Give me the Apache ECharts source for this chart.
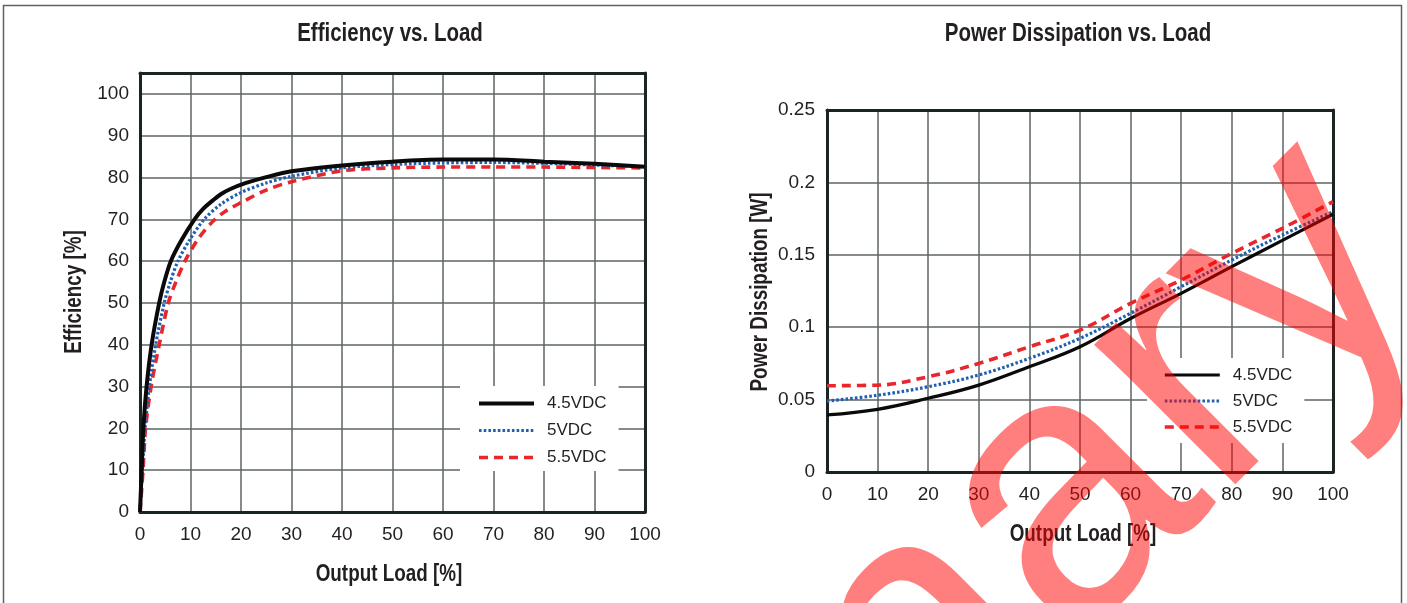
<!DOCTYPE html>
<html>
<head>
<meta charset="utf-8">
<script src="https://cdn.jsdelivr.net/npm/echarts@6/dist/echarts.min.js"></script>
<style>
html,body{margin:0;padding:0;background:#fff;}
#c{width:1407px;height:603px;}
</style>
</head>
<body>
<div id="c"></div>
<script>
// ---------- data ----------
const seriesNames = ['4.5VDC', '5VDC', '5.5VDC'];
const loadTicks = [0, 10, 20, 30, 40, 50, 60, 70, 80, 90, 100];

// Efficiency vs. Load  [load %, efficiency %]
const eff45 = [[0,0],[0.33,10],[0.66,20],[1.3,30],[2.3,40],[3.8,50],[4.8,55],[6.1,60],[8.2,65],[10.8,70],[12.5,72.5],[14.5,74.6],[16,76],[17.8,77.2],[21,78.7],[25,80.1],[30,81.5],[40,82.9],[50,83.8],[60,84.3],[70,84.3],[80,83.8],[90,83.3],[100,82.6]];
const eff50 = [[0,0],[0.46,10],[1.0,20],[1.85,30],[3.1,40],[4.8,50],[6,55],[7.5,60],[9.8,65],[12.7,70],[16,73.6],[20,76.4],[25,78.7],[30,80.3],[40,82.3],[50,83.1],[60,83.5],[70,83.6],[80,83.4],[90,83.0],[100,82.6]];
const eff55 = [[0,0],[0.6,10],[1.1,20],[2.2,30],[3.8,40],[5.6,50],[7.1,55],[8.9,60],[11.5,65.3],[14.5,69.6],[17,72],[20,74],[25,77],[30,79],[40,81.6],[50,82.3],[60,82.5],[70,82.5],[80,82.5],[90,82.4],[100,82.3]];

// Power Dissipation vs. Load  [load %, W]
const pd45 = [[0,0.0394],[10,0.0433],[20,0.0509],[30,0.060],[40,0.0727],[50,0.0865],[60,0.106],[70,0.1234],[80,0.1418],[90,0.160],[100,0.178]];
const pd50 = [[0,0.049],[10,0.053],[20,0.0589],[30,0.067],[40,0.0785],[50,0.0923],[60,0.1096],[70,0.128],[80,0.1464],[90,0.1637],[100,0.1798]];
const pd55 = [[0,0.0596],[10,0.060],[20,0.0658],[30,0.075],[40,0.0865],[50,0.098],[60,0.1165],[70,0.1326],[80,0.151],[90,0.1683],[100,0.1867]];

const effTicks = [0, 10, 20, 30, 40, 50, 60, 70, 80, 90, 100];
const pdTicks = ['0', '0.05', '0.1', '0.15', '0.2', '0.25'];

const titles = ['Efficiency vs. Load', 'Power Dissipation vs. Load'];
const xName = 'Output Load [%]';
const yNames = ['Efficiency [%]', 'Power Dissipation [W]'];
const watermark = 'Preliminary';

// ---------- styles ----------
const FONT = '"Liberation Sans", Arial, sans-serif';
const TXT = '#231f20';
const GRIDC = '#5d6464';
const FRAME = '#1b2424';
const colors = ['#0a0a0a', '#2160b0', '#e8262b'];
const dashTypes = ['solid', [2.6, 2.1], [9, 6]];

function lineStyles(w) {
  return w.map((wd, i) => ({color: colors[i], width: wd, type: dashTypes[i]}));
}

function valueAxes(gi, min, max, interval, labelFmt, margin, isX) {
  const main = {
    type: 'value', gridIndex: gi, min: min, max: max, interval: interval,
    position: isX ? 'bottom' : 'left',
    axisLine: {show: true, onZero: false, lineStyle: {color: FRAME, width: 3}},
    axisTick: {show: false},
    axisLabel: {fontFamily: FONT, fontSize: 19, color: TXT, margin: margin, formatter: labelFmt,
                showMaxLabel: true, showMinLabel: true},
    splitLine: {show: true, lineStyle: {color: GRIDC, width: 1.5}},
    z: 2
  };
  const opp = {
    type: 'value', gridIndex: gi, min: min, max: max, interval: interval,
    position: isX ? 'top' : 'right',
    axisLine: {show: true, onZero: false, lineStyle: {color: FRAME, width: 3}},
    axisTick: {show: false}, axisLabel: {show: false}, splitLine: {show: false}, z: 3
  };
  return [main, opp];
}

const xFmt = v => (loadTicks.indexOf(v) >= 0 ? String(v) : '');
const effFmt = v => (effTicks.indexOf(Math.round(v * 1000) / 1000) >= 0 ? String(v) : '');
const pdFmt = v => {
  const s = String(Math.round(v * 1000) / 1000);
  return pdTicks.indexOf(s) >= 0 ? s : '';
};

const xA0 = valueAxes(0, 0, 100, 10, xFmt, 13, true);
const xA1 = valueAxes(1, 0, 100, 10, xFmt, 13, true);
const yA0 = valueAxes(0, 0, 105, 10, effFmt, 11, false);
const yA1 = valueAxes(1, 0, 0.25, 0.05, pdFmt, 12, false);

const w0 = [4, 3.2, 3.6];
const w1 = [3.2, 3.2, 3.6];
const ls0 = lineStyles(w0);
const ls1 = lineStyles(w1);
const effData = [eff45, eff50, eff55];
const pdData = [pd45, pd50, pd55];

const series = [];
for (let i = 0; i < 3; i++) {
  series.push({
    type: 'line', name: seriesNames[i], xAxisIndex: 0, yAxisIndex: 0,
    data: effData[i], smooth: 0.3, symbol: 'none', lineStyle: ls0[i], itemStyle: {color: colors[i]},
    z: 5 + (2 - i), animation: false
  });
}
for (let i = 0; i < 3; i++) {
  series.push({
    type: 'line', name: seriesNames[i], xAxisIndex: 2, yAxisIndex: 2,
    data: pdData[i], smooth: 0.4, symbol: 'none', lineStyle: ls1[i], itemStyle: {color: colors[i]},
    z: 5 + (2 - i), animation: false
  });
}

function legend(left, top, gap, pad, ls) {
  return {
    orient: 'vertical', left: left, top: top,
    data: seriesNames.map((n, i) => ({name: n, lineStyle: Object.assign({}, ls[i]), itemStyle: {opacity: 0}})),
    backgroundColor: '#ffffff', padding: pad, itemWidth: 55, itemHeight: 20, itemGap: gap,
    selectedMode: false,
    itemStyle: {opacity: 0},
    textStyle: {fontFamily: FONT, fontSize: 17, color: TXT, padding: [0, 0, 0, 8]},
    z: 10
  };
}

function label(text, x, y, size, rot) {
  return {type: 'text', x: x, y: y, rotation: rot || 0, scaleX: 0.82, z: 6, silent: true,
          style: {text: text, fontFamily: FONT, fontWeight: 'bold', fontSize: size, fill: TXT,
                  align: 'center', verticalAlign: 'middle'}};
}

const chart = echarts.init(document.getElementById('c'), null, {renderer: 'canvas'});
chart.setOption({
  animation: false,
  backgroundColor: '#ffffff',
  grid: [
    {left: 140, top: 73, width: 505, height: 439},
    {left: 827, top: 110, width: 506, height: 362}
  ],
  xAxis: [xA0[0], xA0[1], xA1[0], xA1[1]].map((a, i) => Object.assign(a, {gridIndex: i < 2 ? 0 : 1})),
  yAxis: [yA0[0], yA0[1], yA1[0], yA1[1]].map((a, i) => Object.assign(a, {gridIndex: i < 2 ? 0 : 1})),
  legend: [legend(460, 386, 10, [9, 12, 5, 17], ls0), legend(1147, 358, 9, [8.5, 12, 7.5, 16], ls1)],
  series: series,
  graphic: [
    {type: 'rect', shape: {x: 3.5, y: 5.5, width: 1398, height: 620},
     style: {fill: 'none', stroke: '#5b6363', lineWidth: 1.5}, z: 1, silent: true},
    label(titles[0], 390, 34, 25),
    label(titles[1], 1078, 34, 25),
    label(xName, 389, 575, 23),
    label(xName, 1083, 535, 23),
    label(yNames[0], 75, 292, 23, Math.PI / 2),
    label(yNames[1], 761, 292, 23, Math.PI / 2),
    {type: 'text', x: 1365, y: 208, rotation: 45 * Math.PI / 180, z: 100, silent: true,
     style: {text: watermark, fontFamily: '"Liberation Sans", Arial, sans-serif', fontSize: 376,
             fill: 'rgba(255,0,0,0.5)', align: 'right', verticalAlign: 'middle'}}
  ]
});
</script>
</body>
</html>
